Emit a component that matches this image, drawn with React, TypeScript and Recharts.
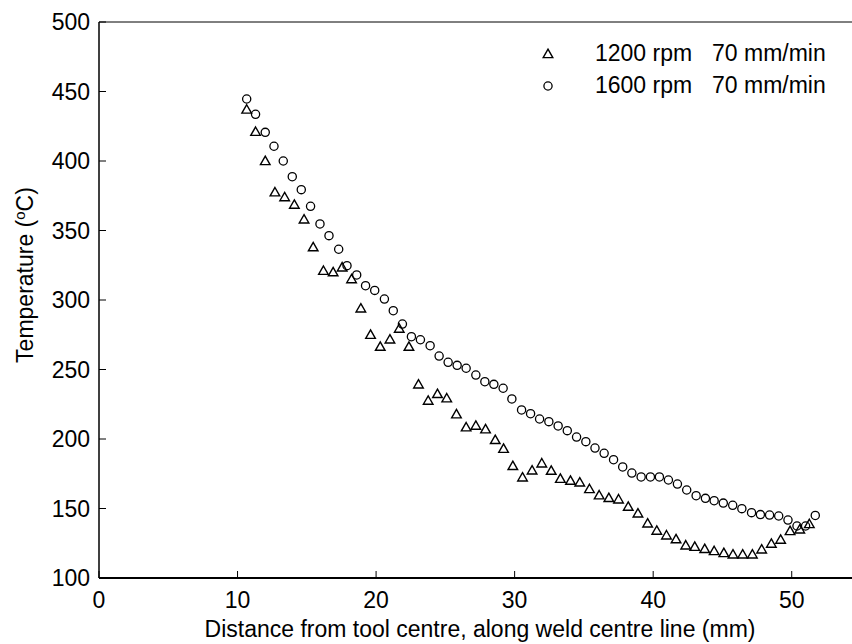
import React from 'react';
import { ScatterChart, Scatter, XAxis, YAxis } from 'recharts';

// 1200 rpm, 70 mm/min (triangles)
const x1200 = [10.66, 11.3, 12.0, 12.7, 13.4, 14.1, 14.8, 15.46, 16.2, 16.9, 17.55, 18.23, 18.9, 19.6, 20.3, 21.0, 21.67, 22.37, 23.06, 23.76, 24.43, 25.1, 25.8, 26.5, 27.2, 27.9, 28.6, 29.2, 29.87, 30.57, 31.26, 31.96, 32.64, 33.3, 34.03, 34.7, 35.4, 36.1, 36.8, 37.5, 38.2, 38.9, 39.6, 40.26, 40.96, 41.65, 42.35, 43.0, 43.72, 44.4, 45.1, 45.76, 46.46, 47.16, 47.83, 48.53, 49.2, 49.88, 50.58, 51.27];
const t1200 = [437, 421, 400, 377.5, 374, 368.6, 358, 338, 321, 320, 323.5, 315, 294, 275, 266.4, 271.7, 279.4, 266.4, 239.3, 227.6, 232.4, 229.3, 217.8, 208.4, 209.6, 207, 199.3, 193, 180.6, 172.4, 177.4, 182.5, 177.2, 171.4, 170, 168.8, 164, 159.5, 157.6, 156.6, 151.3, 146.5, 139.3, 134.1, 130.7, 127.9, 123.5, 122.5, 120.9, 119.4, 118, 117, 117, 117, 120.6, 124.7, 127.6, 133.8, 135, 138.8];

// 1600 rpm, 70 mm/min (circles)
const x1600 = [10.66, 11.3, 12.0, 12.63, 13.3, 13.95, 14.6, 15.27, 15.95, 16.6, 17.3, 17.9, 18.6, 19.24, 19.9, 20.6, 21.24, 21.9, 22.55, 23.2, 23.9, 24.55, 25.2, 25.85, 26.5, 27.2, 27.85, 28.5, 29.17, 29.8, 30.5, 31.15, 31.8, 32.47, 33.14, 33.8, 34.47, 35.14, 35.8, 36.46, 37.14, 37.8, 38.46, 39.13, 39.8, 40.45, 41.1, 41.75, 42.42, 43.1, 43.77, 44.4, 45.06, 45.74, 46.4, 47.1, 47.74, 48.4, 49.06, 49.73, 50.38, 51.0, 51.7];
const t1600 = [444.6, 433.6, 420.6, 410.6, 400, 388.7, 379.4, 367.4, 354.7, 346.3, 336.5, 324.7, 318, 310.3, 306.9, 300.7, 292.3, 282.7, 273.6, 271.4, 267.1, 259.7, 255.2, 253, 250.9, 246, 241.2, 239.3, 236.5, 228.8, 220.9, 218.2, 214.4, 212.5, 209.4, 206, 201.4, 198.1, 193.5, 189.7, 185.1, 179.9, 175.5, 172.7, 172.7, 172.7, 170.5, 167.6, 163.3, 159.2, 157.3, 155.6, 153.9, 152.3, 149.9, 147, 145.6, 145.3, 144.6, 141.7, 137.4, 137.4, 145];

const xTicks = [0, 10, 20, 30, 40, 50];
const yTicks = [100, 150, 200, 250, 300, 350, 400, 450, 500];
const seriesNames = ['1200 rpm', '1600 rpm'];
const feedLabel = '70 mm/min';

const FONT = '"Liberation Sans", Arial, Helvetica, sans-serif';
const FS = 23;
const PLOT_TOP = 22;
const PLOT_BOTTOM = 578;
const PLOT_LEFT = 99;

const data1200 = x1200.map((x, i) => ({ x, t: t1200[i] }));
const data1600 = x1600.map((x, i) => ({ x, t: t1600[i] }));

const Triangle = (props: any) => {
  const { cx, cy } = props;
  const s = 4.8;
  return (
    <polygon
      points={`${cx},${cy - s} ${cx + s},${cy + s * 0.75} ${cx - s},${cy + s * 0.75}`}
      fill="none"
      stroke="#000"
      strokeWidth={1.4}
    />
  );
};

const Ring = (props: any) => {
  const { cx, cy } = props;
  return <circle cx={cx} cy={cy} r={4.1} fill="none" stroke="#000" strokeWidth={1.3} />;
};

const BottomTick = (props: any) => {
  const { x, payload } = props;
  return (
    <g>
      <line x1={x} x2={x} y1={PLOT_BOTTOM} y2={PLOT_BOTTOM - 7} stroke="#000" strokeWidth={1} />
      <text x={x} y={PLOT_BOTTOM + 30} textAnchor="middle" fontSize={FS} fontFamily={FONT} fill="#000">
        {payload.value}
      </text>
    </g>
  );
};

const TopTick = (props: any) => {
  const { x } = props;
  return <line x1={x} x2={x} y1={PLOT_TOP} y2={PLOT_TOP + 7} stroke="#000" strokeWidth={1} />;
};

const LeftTick = (props: any) => {
  const { y, payload } = props;
  return (
    <g>
      <line x1={PLOT_LEFT} x2={PLOT_LEFT + 7} y1={y} y2={y} stroke="#000" strokeWidth={1} />
      <text x={PLOT_LEFT - 9} y={y + 8} textAnchor="end" fontSize={FS} fontFamily={FONT} fill="#000">
        {payload.value}
      </text>
    </g>
  );
};

export default function App() {
  return (
    <div style={{ position: 'absolute', left: 0, top: 0, width: 852, height: 644, overflow: 'hidden', background: '#fff' }}>
      <ScatterChart width={871} height={644} margin={{ top: 12, right: 10, bottom: 36, left: 39 }}>
        <XAxis
          xAxisId="b"
          type="number"
          dataKey="x"
          domain={[0, 55]}
          ticks={xTicks}
          tick={<BottomTick />}
          tickLine={false}
          axisLine={{ stroke: '#000', strokeWidth: 2 }}
          height={30}
          allowDataOverflow
        />
        <XAxis
          xAxisId="t"
          orientation="top"
          type="number"
          dataKey="x"
          domain={[0, 55]}
          ticks={xTicks}
          tick={<TopTick />}
          tickLine={false}
          axisLine={{ stroke: '#000', strokeWidth: 1 }}
          height={10}
        />
        <YAxis
          yAxisId="l"
          type="number"
          dataKey="t"
          domain={[100, 500]}
          ticks={yTicks}
          tick={<LeftTick />}
          tickLine={false}
          axisLine={{ stroke: '#000', strokeWidth: 1.5 }}
          width={60}
          allowDataOverflow
        />
        <Scatter xAxisId="b" yAxisId="l" name={seriesNames[0]} data={data1200} shape={<Triangle />} isAnimationActive={false} />
        <Scatter xAxisId="b" yAxisId="l" name={seriesNames[1]} data={data1600} shape={<Ring />} isAnimationActive={false} />

        {/* legend, MATLAB style, no box */}
        <g>
          <Triangle cx={548} cy={54} />
          <text x={595} y={61} fontSize={FS} fontFamily={FONT} fill="#000">{seriesNames[0]}</text>
          <text x={712} y={61} fontSize={FS} fontFamily={FONT} fill="#000">{feedLabel}</text>
          <Ring cx={548} cy={86} />
          <text x={595} y={93} fontSize={FS} fontFamily={FONT} fill="#000">{seriesNames[1]}</text>
          <text x={712} y={93} fontSize={FS} fontFamily={FONT} fill="#000">{feedLabel}</text>
        </g>

        <text x={480} y={637} textAnchor="middle" fontSize={FS} fontFamily={FONT} fill="#000">
          Distance from tool centre, along weld centre line (mm)
        </text>
        <text
          x={33}
          y={275}
          transform="rotate(-90 33 275)"
          textAnchor="middle"
          fontSize={FS}
          fontFamily={FONT}
          fill="#000"
        >
          Temperature (<tspan dy={-8} fontSize={15}>o</tspan>
          <tspan dy={8}>C)</tspan>
        </text>
      </ScatterChart>
    </div>
  );
}
